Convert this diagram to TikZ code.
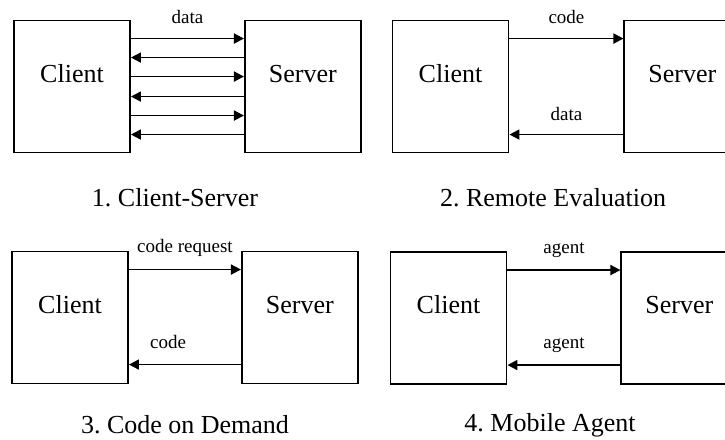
\documentclass[tikz,border=0pt]{standalone}
\usepackage{fontspec}
\setmainfont{Liberation Serif}
\frenchspacing
\usetikzlibrary{arrows.meta,positioning}

\begin{document}
\begin{tikzpicture}[x=1pt, y=-1pt,
  box/.style={draw, line width=1.9pt, minimum width=116pt, minimum height=132pt, inner sep=0pt,
    text height=18pt, text depth=27pt, font=\fontsize{26}{30}\selectfont},
  arr/.style={-{Triangle[length=10pt,width=10pt]}, line width=1.8pt},
  lbl/.style={font=\fontsize{19}{22}\selectfont, inner sep=0pt, text height=13pt, text depth=0pt},
  title/.style={font=\fontsize{26}{30}\selectfont, inner sep=0pt, anchor=base}
]
\useasboundingbox (0,0) rectangle (725,439);
\clip (0,0) rectangle (725,439);

% 1. Client-Server
\node[box] (client1) at (72,86.5) {Client};
\node[box, right=113pt of client1] (server1) {Server};
\draw[arr] ([yshift=-19pt]client1.north east) -- node[lbl, above=14pt] {data} ([yshift=-19pt]server1.north west);
\foreach \d in {57,96}
  \draw[arr] ([yshift=-\d pt]client1.north east) -- ([yshift=-\d pt]server1.north west);
\foreach \d in {38,77,115}
  \draw[arr] ([yshift=-\d pt]server1.north west) -- ([yshift=-\d pt]client1.north east);
\node[title] (title1) at (175,206) {1. Client-Server};

% 2. Remote Evaluation
\node[box] (client2) at (450.5,86.5) {Client};
\node[box, right=114pt of client2] (server2) {Server};
\draw[arr] ([yshift=-19pt]client2.north east) -- node[lbl, above=14pt] {code} ([yshift=-19pt]server2.north west);
\draw[arr] ([yshift=-115pt]server2.north west) -- node[lbl, above=13pt] {data} ([yshift=-115pt]client2.north east);
\node[title] (title2) at (553,206) {2. Remote Evaluation};

% 3. Code on Demand
\node[box] (client3) at (70,317.5) {Client};
\node[box, right=112pt of client3] (server3) {Server};
\draw[arr] ([yshift=-19pt]client3.north east) -- node[lbl, above=16pt] {code request} ([yshift=-19pt]server3.north west);
\draw[arr] ([yshift=-114pt]server3.north west) -- node[lbl, above=15pt, pos=0.65] {code} ([yshift=-114pt]client3.north east);
\node[title] (title3) at (185,433) {3. Code on Demand};

% 4. Mobile Agent
\node[box] (client4) at (448.5,318) {Client};
\node[box, right=113pt of client4] (server4) {Server};
\draw[arr] ([yshift=-19pt]client4.north east) -- node[lbl, above=16pt] {agent} ([yshift=-19pt]server4.north west);
\draw[arr] ([yshift=-114pt]server4.north west) -- node[lbl, above=16pt] {agent} ([yshift=-114pt]client4.north east);
\node[title] (title4) at (550,431) {4. Mobile Agent};
\end{tikzpicture}
\end{document}
